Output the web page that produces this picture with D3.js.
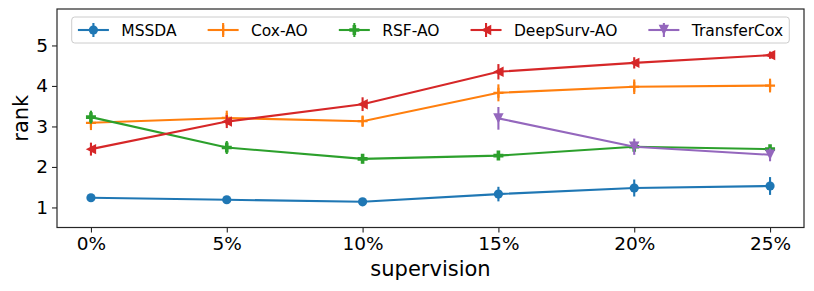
<!DOCTYPE html>
<html>
<head>
<meta charset="utf-8">
<script src="https://cdn.jsdelivr.net/npm/d3@7"></script>
<style>
  html, body { margin: 0; padding: 0; background: #fff; }
  svg { display: block; font-family: "DejaVu Sans", sans-serif; }
</style>
</head>
<body>
<svg id="chart" width="814" height="291"></svg>
<script>
// ---- data ----
const xValues = [0, 5, 10, 15, 20, 25];
const xTickLabels = ["0%", "5%", "10%", "15%", "20%", "25%"];
const yTicks = [1, 2, 3, 4, 5];
const seriesNames = ["MSSDA", "Cox-AO", "RSF-AO", "DeepSurv-AO", "TransferCox"];

const mssda       = [1.24, 1.19, 1.14, 1.33, 1.48, 1.53];
const mssdaErr    = [0.08, 0.08, 0.08, 0.18, 0.21, 0.22];
const coxAO       = [3.09, 3.21, 3.13, 3.83, 3.98, 4.01];
const coxAOErr    = [0.18, 0.18, 0.14, 0.21, 0.18, 0.17];
const rsfAO       = [3.23, 2.48, 2.20, 2.28, 2.50, 2.44];
const rsfAOErr    = [0.16, 0.16, 0.11, 0.10, 0.10, 0.10];
const deepSurvAO  = [2.44, 3.12, 3.55, 4.35, 4.57, 4.76];
const deepSurvErr = [0.16, 0.16, 0.17, 0.19, 0.14, 0.09];
const transferCox = [null, null, null, 3.20, 2.50, 2.30];
const transferErr = [null, null, null, 0.28, 0.20, 0.16];

const colors = ["#1f77b4", "#ff7f0e", "#2ca02c", "#d62728", "#9467bd"];
const markers = ["circle", "plus", "filledPlus", "triLeft", "triDown"];

const series = [
  { name: seriesNames[0], values: mssda, errs: mssdaErr },
  { name: seriesNames[1], values: coxAO, errs: coxAOErr },
  { name: seriesNames[2], values: rsfAO, errs: rsfAOErr },
  { name: seriesNames[3], values: deepSurvAO, errs: deepSurvErr },
  { name: seriesNames[4], values: transferCox, errs: transferErr },
].map((s, i) => ({ ...s, color: colors[i], marker: markers[i],
  points: xValues.map((x, j) => ({ x, y: s.values[j], e: s.errs[j] })).filter(p => p.y != null) }));

// ---- layout ----
const svg = d3.select("#chart");
const L = 57, R = 804, T = 9, B = 227.5;
const x = d3.scaleLinear().domain([-1.25, 26.25]).range([L, R]);
const y = d3.scaleLinear().domain([0.505, 5.9]).range([B, T]);

const axisColor = "#262626";
const tickFont = 18.5;

// marker drawing
function drawMarker(g, type, cx, cy, color) {
  const s = 5;
  if (type === "circle") {
    g.append("circle").attr("cx", cx).attr("cy", cy).attr("r", 4.6).attr("fill", color);
  } else if (type === "plus") {
    g.append("path").attr("d", `M${cx - s},${cy}H${cx + s}M${cx},${cy - s}V${cy + s}`)
      .attr("stroke", color).attr("stroke-width", 2.2).attr("fill", "none");
  } else if (type === "filledPlus") {
    const a = 5, w = 1.8;
    g.append("path").attr("d",
      `M${cx - w},${cy - a}H${cx + w}V${cy - w}H${cx + a}V${cy + w}H${cx + w}V${cy + a}H${cx - w}V${cy + w}H${cx - a}V${cy - w}H${cx - w}Z`)
      .attr("fill", color);
  } else if (type === "triLeft") {
    const a = 5.2;
    g.append("path").attr("d", `M${cx - a},${cy}L${cx + a},${cy - a}L${cx + a},${cy + a}Z`).attr("fill", color);
  } else if (type === "triDown") {
    const a = 5.2;
    g.append("path").attr("d", `M${cx - a},${cy - a}L${cx + a},${cy - a}L${cx},${cy + a}Z`).attr("fill", color);
  }
}

// ---- series ----
const line = d3.line().x(d => x(d.x)).y(d => y(d.y));
series.forEach(s => {
  const g = svg.append("g");
  g.append("path").datum(s.points).attr("d", line)
    .attr("fill", "none").attr("stroke", s.color).attr("stroke-width", 2.1);
  g.selectAll("line.err").data(s.points).enter().append("line")
    .attr("x1", d => x(d.x)).attr("x2", d => x(d.x))
    .attr("y1", d => y(d.y - d.e)).attr("y2", d => y(d.y + d.e))
    .attr("stroke", s.color).attr("stroke-width", 2.1);
  s.points.forEach(p => drawMarker(g, s.marker, x(p.x), y(p.y), s.color));
});

// ---- axes ----
const xAxis = d3.axisBottom(x).tickValues(xValues).tickFormat((d, i) => xTickLabels[i])
  .tickSizeInner(5).tickSizeOuter(0).tickPadding(4);
const gx = svg.append("g").attr("transform", `translate(0,${B})`).call(xAxis);
gx.select(".domain").remove();
gx.selectAll("line").attr("stroke", axisColor).attr("stroke-width", 1.1);
gx.selectAll("text").attr("fill", "#000").style("font-size", tickFont + "px")
  .style("font-family", "DejaVu Sans");

const yAxis = d3.axisLeft(y).tickValues(yTicks).tickFormat(d3.format("d"))
  .tickSizeInner(5).tickSizeOuter(0).tickPadding(4);
const gy = svg.append("g").attr("transform", `translate(${L},0)`).call(yAxis);
gy.select(".domain").remove();
gy.selectAll("line").attr("stroke", axisColor).attr("stroke-width", 1.1);
gy.selectAll("text").attr("fill", "#000").style("font-size", tickFont + "px")
  .style("font-family", "DejaVu Sans");

// frame
svg.append("rect").attr("x", L).attr("y", T).attr("width", R - L).attr("height", B - T)
  .attr("fill", "none").attr("stroke", axisColor).attr("stroke-width", 1.2);

// axis labels
svg.append("text").attr("x", (L + R) / 2).attr("y", 276)
  .attr("text-anchor", "middle").style("font-size", "21px").attr("fill", "#000")
  .text("supervision");
svg.append("text").attr("transform", `translate(27.5,${(T + B) / 2}) rotate(-90)`)
  .attr("text-anchor", "middle").style("font-size", "21px").attr("fill", "#000")
  .text("rank");

// ---- legend ----
const legFont = 15.5;
const handleLen = 31, handlePad = 12.4, colSpace = 31, borderPad = 6.2;
const lg = svg.append("g");
const box = lg.append("rect");
const items = [];
let cursor = 0;
series.forEach(s => {
  const t = lg.append("text").style("font-size", legFont + "px").attr("fill", "#000").text(s.name);
  const w = t.node().getComputedTextLength();
  items.push({ s, t, w, start: cursor });
  cursor += handleLen + handlePad + w + colSpace;
});
const contentW = cursor - colSpace;
const boxW = contentW + 2 * borderPad;
const boxX = (L + R) / 2 - boxW / 2;
const boxY = 17, boxH = 26;
box.attr("x", boxX).attr("y", boxY).attr("width", boxW).attr("height", boxH)
  .attr("rx", 3).attr("fill", "#fff").attr("fill-opacity", 0.8)
  .attr("stroke", "#cccccc").attr("stroke-width", 1);
const cy = boxY + boxH / 2;
items.forEach(it => {
  const hx = boxX + borderPad + it.start;
  const mid = hx + handleLen / 2;
  lg.append("line").attr("x1", hx).attr("x2", hx + handleLen).attr("y1", cy).attr("y2", cy)
    .attr("stroke", it.s.color).attr("stroke-width", 2.1);
  lg.append("line").attr("x1", mid).attr("x2", mid).attr("y1", cy - 7).attr("y2", cy + 7)
    .attr("stroke", it.s.color).attr("stroke-width", 2.1);
  drawMarker(lg, it.s.marker, mid, cy, it.s.color);
  it.t.attr("x", hx + handleLen + handlePad).attr("y", cy + 5.6);
});
</script>
</body>
</html>
